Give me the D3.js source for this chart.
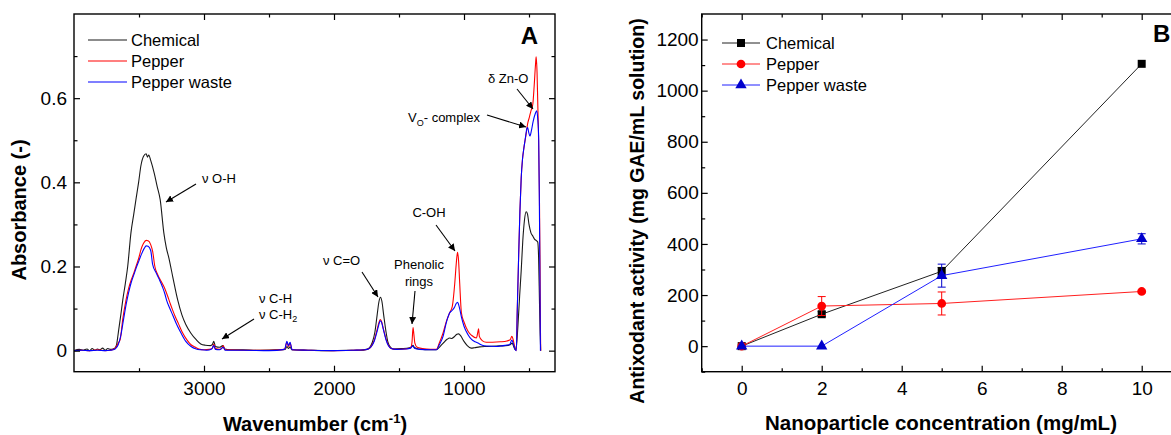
<!DOCTYPE html>
<html>
<head>
<meta charset="utf-8">
<script src="https://cdn.jsdelivr.net/npm/d3@7"></script>
<style>
  html, body { margin: 0; padding: 0; background: #fff; }
  svg { display: block; }
  text { font-family: "Liberation Sans", Arial, sans-serif; fill: #000; }
</style>
</head>
<body>
<svg id="chart" width="1171" height="435"></svg>
<script>
// ---------- Panel A: FTIR spectra, [wavenumber (cm-1), absorbance] ----------
const chemicalSpectrum = [
  [4000,0.000],[3960,0.003],[3930,0.001],[3900,0.004],[3880,0.000],[3860,0.005],[3840,0.001],[3820,0.004],
  [3800,0.002],[3780,0.006],[3760,0.001],[3740,0.005],[3720,0.003],[3700,0.004],[3685,0.006],[3672,0.015],
  [3659,0.043],[3640,0.085],[3625,0.120],[3605,0.160],[3587,0.200],[3562,0.280],[3540,0.325],[3523,0.360],
  [3503,0.400],[3485,0.440],[3465,0.462],[3445,0.468],[3435,0.460],[3425,0.465],[3410,0.452],[3383,0.422],
  [3360,0.390],[3337,0.359],[3309,0.280],[3290,0.245],[3270,0.220],[3240,0.175],[3202,0.120],[3170,0.085],
  [3140,0.062],[3102,0.042],[3060,0.026],[3025,0.016],[2990,0.013],[2950,0.012],[2935,0.015],[2925,0.022],
  [2912,0.010],[2880,0.008],[2855,0.012],[2840,0.004],[2800,0.002],[2700,0.002],[2600,0.001],[2450,0.002],
  [2375,0.003],[2362,0.010],[2350,0.005],[2338,0.009],[2325,0.002],[2200,0.001],[2050,0.000],[1900,0.001],
  [1800,0.001],[1750,0.003],[1725,0.008],[1705,0.020],[1685,0.045],[1668,0.085],[1655,0.115],[1643,0.127],
  [1632,0.118],[1618,0.085],[1600,0.045],[1585,0.020],[1565,0.008],[1540,0.004],[1480,0.005],[1420,0.007],
  [1400,0.010],[1392,0.013],[1384,0.008],[1350,0.004],[1250,0.002],[1212,0.002],[1190,0.008],[1160,0.018],
  [1130,0.027],[1110,0.030],[1095,0.029],[1075,0.033],[1055,0.039],[1041,0.040],[1025,0.035],[1000,0.022],
  [975,0.012],[945,0.006],[920,0.007],[880,0.009],[820,0.010],[750,0.011],[680,0.012],[645,0.014],
  [630,0.018],[618,0.010],[606,0.002],[597,0.010],[585,0.060],[572,0.130],[560,0.190],[548,0.260],
  [535,0.310],[522,0.330],[512,0.325],[500,0.300],[485,0.280],[470,0.272],[458,0.265],[445,0.262],
  [433,0.258],[426,0.220],[419,0.110],[414,0.040],[410,0.000]
];

const pepperSpectrum = [
  [4000,0.000],[3940,0.001],[3880,0.000],[3820,0.002],[3760,0.000],[3720,0.001],[3700,0.003],[3680,0.007],
  [3660,0.018],[3645,0.026],[3625,0.075],[3600,0.120],[3580,0.148],[3560,0.168],[3540,0.184],[3523,0.200],
  [3500,0.222],[3485,0.240],[3465,0.255],[3445,0.262],[3430,0.261],[3410,0.252],[3395,0.236],[3378,0.200],
  [3355,0.180],[3330,0.165],[3305,0.150],[3280,0.130],[3260,0.112],[3242,0.097],[3220,0.080],[3195,0.063],
  [3166,0.043],[3130,0.025],[3100,0.014],[3078,0.010],[3040,0.004],[3000,0.002],[2960,0.003],[2935,0.006],
  [2925,0.016],[2912,0.005],[2880,0.003],[2862,0.006],[2852,0.012],[2840,0.002],[2700,0.001],[2500,0.001],
  [2380,0.003],[2362,0.020],[2350,0.010],[2338,0.018],[2322,0.002],[2200,0.001],[2000,0.000],[1850,0.001],
  [1760,0.002],[1730,0.005],[1710,0.012],[1690,0.025],[1670,0.048],[1655,0.066],[1645,0.074],[1635,0.070],
  [1620,0.052],[1600,0.028],[1580,0.012],[1560,0.005],[1520,0.003],[1450,0.004],[1410,0.007],[1400,0.020],
  [1392,0.055],[1386,0.040],[1378,0.018],[1360,0.008],[1320,0.005],[1260,0.003],[1212,0.003],[1190,0.018],
  [1161,0.042],[1135,0.070],[1110,0.090],[1090,0.105],[1071,0.160],[1060,0.205],[1050,0.234],[1042,0.215],
  [1033,0.160],[1020,0.090],[1000,0.068],[969,0.046],[940,0.036],[905,0.030],[893,0.045],[888,0.052],
  [882,0.034],[860,0.024],[828,0.020],[780,0.020],[720,0.021],[670,0.023],[645,0.026],[632,0.034],
  [620,0.024],[608,0.006],[598,0.000],[590,0.100],[580,0.220],[570,0.330],[560,0.410],[550,0.455],
  [540,0.480],[530,0.500],[522,0.515],[510,0.540],[497,0.555],[485,0.570],[471,0.585],[460,0.630],
  [450,0.680],[445,0.698],[438,0.660],[432,0.580],[428,0.530],[420,0.375],[415,0.200],[412,0.050],[410,0.000]
];

const pepperWasteSpectrum = [
  [4000,0.000],[3940,0.001],[3880,0.000],[3820,0.001],[3760,0.000],[3720,0.001],[3700,0.002],[3680,0.005],
  [3660,0.014],[3640,0.036],[3620,0.072],[3600,0.108],[3580,0.138],[3560,0.162],[3540,0.180],[3520,0.198],
  [3500,0.214],[3480,0.230],[3460,0.243],[3445,0.249],[3430,0.248],[3410,0.238],[3395,0.205],[3370,0.186],
  [3345,0.170],[3320,0.152],[3300,0.134],[3288,0.120],[3265,0.102],[3240,0.084],[3210,0.062],[3179,0.043],
  [3140,0.022],[3100,0.010],[3060,0.004],[3020,0.002],[2980,0.001],[2940,0.004],[2925,0.012],[2912,0.003],
  [2880,0.002],[2852,0.008],[2838,0.001],[2700,0.001],[2500,0.000],[2380,0.003],[2362,0.022],[2350,0.012],
  [2338,0.020],[2322,0.002],[2200,0.001],[2000,0.000],[1850,0.001],[1760,0.002],[1730,0.005],[1710,0.011],
  [1690,0.023],[1670,0.044],[1655,0.062],[1645,0.071],[1635,0.068],[1620,0.050],[1600,0.026],[1580,0.011],
  [1560,0.005],[1520,0.003],[1450,0.004],[1410,0.006],[1396,0.011],[1388,0.009],[1378,0.005],[1340,0.003],
  [1260,0.002],[1212,0.002],[1190,0.014],[1161,0.034],[1135,0.068],[1110,0.090],[1090,0.096],[1072,0.104],
  [1060,0.112],[1050,0.115],[1042,0.110],[1030,0.095],[1020,0.080],[1000,0.058],[969,0.038],[940,0.026],
  [915,0.021],[893,0.018],[860,0.013],[820,0.011],[752,0.010],[700,0.012],[650,0.014],[632,0.025],
  [620,0.016],[608,0.004],[598,0.000],[590,0.100],[580,0.220],[570,0.330],[560,0.410],[550,0.455],
  [540,0.480],[528,0.505],[516,0.528],[510,0.530],[503,0.520],[493,0.510],[482,0.522],[468,0.545],
  [452,0.563],[441,0.570],[433,0.552],[425,0.500],[418,0.260],[414,0.080],[412,0.000]
];

const spectrumNames = ["Chemical", "Pepper", "Pepper waste"];
const seriesColors = ["#1a1a1a", "#ff0000", "#0000ff"];

const wavenumberMajorTicks = [3000, 2000, 1000];
const wavenumberMinorTicks = [3500, 2500, 1500, 500];
const absorbanceMajorTicks = [0, 0.2, 0.4, 0.6];
const absorbanceMinorTicks = [0.1, 0.3, 0.5, 0.7];
const absorbanceTickLabels = ["0", "0.2", "0.4", "0.6"];

// ---------- Panel B: antioxidant activity ----------
const concentrations = [0, 2, 5, 10];
const chemicalActivity = [0, 125, 293, 1105];
const chemicalError = [0, 10, 15, 0];
const pepperActivity = [0, 157, 167, 214];
const pepperError = [0, 37, 45, 5];
const pepperWasteActivity = [0, 0, 276, 420];
const pepperWasteError = [0, 0, 45, 20];

const concentrationMajorTicks = [0, 2, 4, 6, 8, 10];
const concentrationMinorTicks = [-1, 1, 3, 5, 7, 9];
const activityMajorTicks = [0, 200, 400, 600, 800, 1000, 1200];
const activityMinorTicks = [-100, 100, 300, 500, 700, 900, 1100];

const svg = d3.select("#chart");

// arrowhead for annotation pointers
svg.append("defs").append("marker")
  .attr("id", "arrowHead")
  .attr("viewBox", "0 0 10 10")
  .attr("refX", 10).attr("refY", 5)
  .attr("markerWidth", 7).attr("markerHeight", 7)
  .attr("markerUnits", "userSpaceOnUse")
  .attr("orient", "auto")
  .append("path").attr("d", "M0,0 L10,5 L0,10 Z").attr("fill", "#000");

function drawFrameAxes(g, x, y, opts) {
  const [x0, x1] = x.range();
  const [y0, y1] = y.range();
  const major = 6, minor = 3.5;
  const style = sel => {
    sel.select(".domain").remove();
    sel.selectAll(".tick line").attr("stroke", "#000").attr("stroke-width", 1.2);
    sel.selectAll("text").attr("font-size", opts.tickFont + "px").attr("fill", "#000");
  };
  // bottom
  g.append("g").attr("transform", `translate(0,${y0})`)
    .call(d3.axisBottom(x).tickValues(opts.xMajor).tickSize(-major).tickPadding(opts.xPad)
      .tickFormat(opts.xFormat)).call(style);
  g.append("g").attr("transform", `translate(0,${y0})`)
    .call(d3.axisBottom(x).tickValues(opts.xMinor).tickSize(-minor).tickFormat("")).call(style);
  // top
  g.append("g").attr("transform", `translate(0,${y1})`)
    .call(d3.axisTop(x).tickValues(opts.xMajor).tickSize(-major).tickFormat("")).call(style);
  g.append("g").attr("transform", `translate(0,${y1})`)
    .call(d3.axisTop(x).tickValues(opts.xMinor).tickSize(-minor).tickFormat("")).call(style);
  // left
  g.append("g").attr("transform", `translate(${x0},0)`)
    .call(d3.axisLeft(y).tickValues(opts.yMajor).tickSize(-major).tickPadding(opts.yPad)
      .tickFormat(opts.yFormat)).call(style);
  g.append("g").attr("transform", `translate(${x0},0)`)
    .call(d3.axisLeft(y).tickValues(opts.yMinor).tickSize(-minor).tickFormat("")).call(style);
  // right
  g.append("g").attr("transform", `translate(${x1},0)`)
    .call(d3.axisRight(y).tickValues(opts.yMajor).tickSize(-major).tickFormat("")).call(style);
  g.append("g").attr("transform", `translate(${x1},0)`)
    .call(d3.axisRight(y).tickValues(opts.yMinor).tickSize(-minor).tickFormat("")).call(style);
  // frame
  g.append("rect")
    .attr("x", x0).attr("y", y1).attr("width", x1 - x0).attr("height", y0 - y1)
    .attr("fill", "none").attr("stroke", "#000").attr("stroke-width", 1.4);
}

// ================= Panel A =================
{
  const g = svg.append("g");
  const x = d3.scaleLinear().domain([4000, 300]).range([74, 555]);
  const y = d3.scaleLinear().domain([-0.05, 0.8]).range([371.7, 14]);

  const clipId = "clipA";
  g.append("clipPath").attr("id", clipId).append("rect")
    .attr("x", 74).attr("y", 14).attr("width", 481).attr("height", 357.7);

  const line = d3.line().x(d => x(d[0])).y(d => y(d[1])).curve(d3.curveMonotoneX);
  const spectra = [chemicalSpectrum, pepperSpectrum, pepperWasteSpectrum];
  spectra.forEach((s, i) => {
    g.append("path").datum(s)
      .attr("clip-path", `url(#${clipId})`)
      .attr("d", line)
      .attr("fill", "none")
      .attr("stroke", seriesColors[i])
      .attr("stroke-width", 1.1)
      .attr("stroke-linejoin", "round");
  });

  const fmtA = d3.scaleOrdinal().domain(absorbanceMajorTicks).range(absorbanceTickLabels);
  drawFrameAxes(g, x, y, {
    xMajor: wavenumberMajorTicks, xMinor: wavenumberMinorTicks,
    yMajor: absorbanceMajorTicks, yMinor: absorbanceMinorTicks,
    xFormat: d => String(d), yFormat: d => fmtA(d),
    tickFont: 19, xPad: 10, yPad: 7
  });

  // legend
  const leg = g.append("g");
  spectrumNames.forEach((name, i) => {
    const ly = 40 + i * 21;
    leg.append("line").attr("x1", 88).attr("x2", 127).attr("y1", ly).attr("y2", ly)
      .attr("stroke", seriesColors[i]).attr("stroke-width", 1.1);
    leg.append("text").attr("x", 131).attr("y", ly + 6).attr("font-size", "16.5px").text(name);
  });

  // panel letter
  g.append("text").attr("x", 538).attr("y", 44).attr("text-anchor", "end")
    .attr("font-size", "24px").attr("font-weight", "bold").text("A");

  // band assignments
  const ann = g.append("g").attr("font-size", "13px");
  const arrow = (x1, y1, x2, y2) => ann.append("line")
    .attr("x1", x1).attr("y1", y1).attr("x2", x2).attr("y2", y2)
    .attr("stroke", "#000").attr("stroke-width", 1.1).attr("marker-end", "url(#arrowHead)");

  ann.append("text").attr("x", 202).attr("y", 183).text("\u03bd O-H");
  arrow(196, 184, 166, 202);

  ann.append("text").attr("x", 259).attr("y", 303).text("\u03bd C-H");
  const ch2 = ann.append("text").attr("x", 259).attr("y", 319);
  ch2.append("tspan").text("\u03bd C-H");
  ch2.append("tspan").attr("font-size", "9px").attr("dy", 3).text("2");
  arrow(254, 319, 222, 339);

  ann.append("text").attr("x", 323).attr("y", 265).text("\u03bd C=O");
  arrow(362, 272, 378, 297);

  ann.append("text").attr("x", 419).attr("y", 269).attr("text-anchor", "middle").text("Phenolic");
  ann.append("text").attr("x", 419).attr("y", 286).attr("text-anchor", "middle").text("rings");
  arrow(415, 291, 412, 324);

  ann.append("text").attr("x", 429).attr("y", 217).attr("text-anchor", "middle").text("C-OH");
  arrow(436, 225, 455, 251);

  ann.append("text").attr("x", 488).attr("y", 83).text("\u03b4 Zn-O");
  arrow(517, 89, 533, 109);

  const vo = ann.append("text").attr("x", 408).attr("y", 122);
  vo.append("tspan").text("V");
  vo.append("tspan").attr("font-size", "9px").attr("dy", 4).text("O");
  vo.append("tspan").attr("dy", -4).text("- complex");
  arrow(487, 115, 526, 127);

  // axis titles
  const xt = g.append("text").attr("x", 315).attr("y", 431).attr("text-anchor", "middle")
    .attr("font-size", "20px").attr("font-weight", "bold");
  xt.append("tspan").text("Wavenumber (cm");
  xt.append("tspan").attr("font-size", "13px").attr("dy", -8).text("-1");
  xt.append("tspan").attr("dy", 8).text(")");

  g.append("text").attr("transform", "translate(26,210) rotate(-90)")
    .attr("text-anchor", "middle").attr("font-size", "20px").attr("font-weight", "bold")
    .text("Absorbance (-)");
}

// ================= Panel B =================
{
  const g = svg.append("g");
  const x = d3.scaleLinear().domain([-1, 11]).range([701.7, 1181.7]);
  const y = d3.scaleLinear().domain([-100, 1300]).range([371.7, 14]);

  drawFrameAxes(g, x, y, {
    xMajor: concentrationMajorTicks, xMinor: concentrationMinorTicks,
    yMajor: activityMajorTicks, yMinor: activityMinorTicks,
    xFormat: d => String(d), yFormat: d => String(d),
    tickFont: 19, xPad: 10, yPad: 3
  });

  const series = [
    { name: "Chemical", values: chemicalActivity, err: chemicalError, color: "#000", lineColor: "#222", shape: d3.symbolSquare, size: 64 },
    { name: "Pepper", values: pepperActivity, err: pepperError, color: "#ff0000", lineColor: "#ff2020", shape: d3.symbolCircle, size: 60 },
    { name: "Pepper waste", values: pepperWasteActivity, err: pepperWasteError, color: "#0000cc", lineColor: "#2020ff", shape: d3.symbolTriangle, size: 56 }
  ];

  const line = d3.line().x((d, i) => x(concentrations[i])).y(d => y(d));

  series.forEach(s => {
    g.append("path").datum(s.values).attr("d", line)
      .attr("fill", "none").attr("stroke", s.lineColor).attr("stroke-width", 1);

    const eb = g.append("g").attr("stroke", s.color).attr("stroke-width", 1);
    s.values.forEach((v, i) => {
      const e = s.err[i];
      if (!e) return;
      const cx = x(concentrations[i]);
      eb.append("line").attr("x1", cx).attr("x2", cx).attr("y1", y(v - e)).attr("y2", y(v + e));
      eb.append("line").attr("x1", cx - 4).attr("x2", cx + 4).attr("y1", y(v - e)).attr("y2", y(v - e));
      eb.append("line").attr("x1", cx - 4).attr("x2", cx + 4).attr("y1", y(v + e)).attr("y2", y(v + e));
    });

    g.selectAll(null).data(s.values).enter().append("path")
      .attr("transform", (d, i) => `translate(${x(concentrations[i])},${y(d)})`)
      .attr("d", d3.symbol().type(s.shape).size(s.size))
      .attr("fill", s.color);
  });

  // legend
  series.forEach((s, i) => {
    const ly = 43 + i * 21;
    g.append("line").attr("x1", 722).attr("x2", 760).attr("y1", ly).attr("y2", ly)
      .attr("stroke", s.lineColor).attr("stroke-width", 1);
    g.append("path").attr("transform", `translate(741,${ly})`)
      .attr("d", d3.symbol().type(s.shape).size(s.size)).attr("fill", s.color);
    g.append("text").attr("x", 766).attr("y", ly + 6).attr("font-size", "16.5px").text(s.name);
  });

  g.append("text").attr("x", 1153).attr("y", 42)
    .attr("font-size", "24px").attr("font-weight", "bold").text("B");

  g.append("text").attr("x", 941).attr("y", 430).attr("text-anchor", "middle")
    .attr("font-size", "20.5px").attr("font-weight", "bold")
    .text("Nanoparticle concentration (mg/mL)");

  g.append("text").attr("transform", "translate(644,211) rotate(-90)")
    .attr("text-anchor", "middle").attr("font-size", "19.5px").attr("font-weight", "bold")
    .text("Antixodant activity (mg GAE/mL solution)");
}
</script>
</body>
</html>
